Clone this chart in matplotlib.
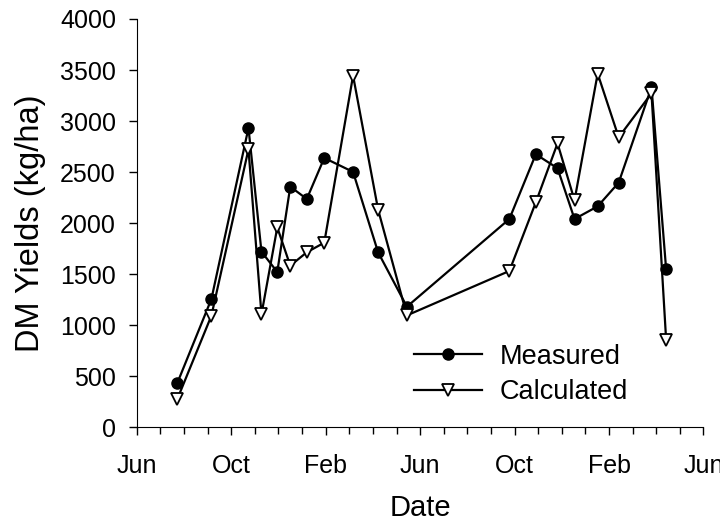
import matplotlib
matplotlib.use("Agg")
import matplotlib.pyplot as plt
from matplotlib.ticker import MultipleLocator, FixedLocator

# months counted from 1 June of the first year
months = [1.71, 3.16, 4.73, 5.28, 5.95, 6.5, 7.2, 7.94, 9.16, 10.22, 11.44,
          15.78, 16.9, 17.82, 18.54, 19.52, 20.41, 21.8, 22.42]
measured = [431, 1257, 2933, 1721, 1522, 2358, 2237, 2639, 2502, 1715, 1182,
            2041, 2675, 2538, 2041, 2165, 2397, 3331, 1548]
calculated = [274, 1094, 2724, 1107, 1959, 1584, 1715, 1809, 3445, 2133, 1097,
              1532, 2204, 2782, 2224, 3465, 2841, 3272, 856]
tick_labels = ["Jun", "Oct", "Feb", "Jun", "Oct", "Feb", "Jun"]

plt.rcParams["font.family"] = ["Liberation Sans", "DejaVu Sans"]

fig = plt.figure(figsize=(7.2, 5.27), dpi=100)
ax = fig.add_axes([0.19, 0.189, 0.787, 0.775])

ax.plot(months, measured, "-o", color="black", lw=1.6, markersize=8,
        label="Measured")
ax.plot(months, calculated, "-v", color="black", lw=1.6, markersize=8,
        markerfacecolor="white", markeredgewidth=1.3, label="Calculated")

ax.set_xlim(0, 24)
ax.set_ylim(0, 4000)
ax.xaxis.set_major_locator(FixedLocator(range(0, 25, 4)))
ax.xaxis.set_minor_locator(MultipleLocator(1))
ax.set_xticklabels(tick_labels)
ax.yaxis.set_major_locator(MultipleLocator(500))

ax.spines["top"].set_visible(False)
ax.spines["right"].set_visible(False)
ax.tick_params(axis="both", which="major", labelsize=18, direction="out",
               length=6, width=1)
ax.tick_params(axis="x", which="minor", direction="out", length=5, width=1)
ax.tick_params(axis="x", pad=13)
ax.tick_params(axis="y", pad=9)

ax.set_xlabel("Date", fontsize=21, labelpad=12)
ax.set_ylabel("DM Yields (kg/ha)", fontsize=23.5, labelpad=10)

ax.legend(loc="center left", bbox_to_anchor=(0.47, 0.13), frameon=False,
          fontsize=19.5, handlelength=2.5, handletextpad=0.65, labelspacing=0.35,
          borderaxespad=0)

fig.savefig("out.png", dpi=100)
